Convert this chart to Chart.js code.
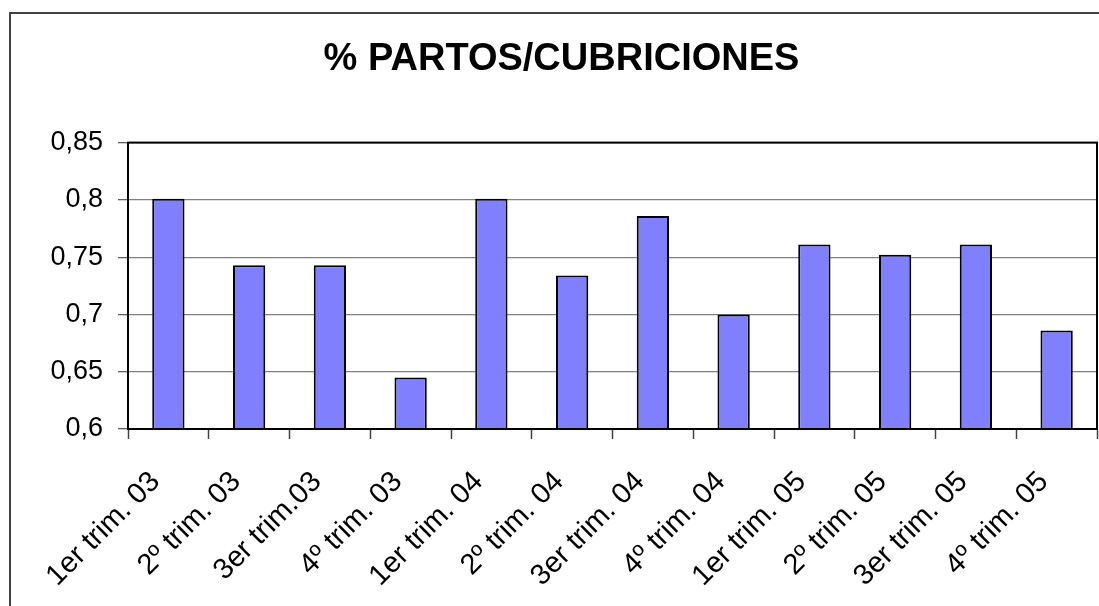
<!DOCTYPE html>
<html>
<head>
<meta charset="utf-8">
<script src="https://cdn.jsdelivr.net/npm/chart.js@4.4.1/dist/chart.umd.min.js"></script>
<style>
  html, body { margin: 0; padding: 0; background: #ffffff; }
  #wrap { width: 1099px; height: 606px; }
</style>
</head>
<body>
<div id="wrap"><canvas id="c" width="1099" height="606"></canvas></div>
<script>
const chartTitle = '% PARTOS/CUBRICIONES';
const categories = ['1er trim. 03', '2º trim. 03', '3er trim.03', '4º trim. 03',
                    '1er trim. 04', '2º trim. 04', '3er trim. 04', '4º trim. 04',
                    '1er trim. 05', '2º trim. 05', '3er trim. 05', '4º trim. 05'];
const values = [0.801, 0.743, 0.743, 0.645, 0.801, 0.734, 0.786, 0.700, 0.761, 0.752, 0.761, 0.686];
const yTickValues = [0.6, 0.65, 0.7, 0.75, 0.8, 0.85];
const yTickLabels = ['0,6', '0,65', '0,7', '0,75', '0,8', '0,85'];

const FONT = '"Liberation Sans", Arial, sans-serif';

const frame = {
  id: 'frame',
  beforeDraw(chart) {
    const ctx = chart.ctx;
    ctx.save();
    ctx.fillStyle = '#ffffff';
    ctx.fillRect(0, 0, chart.width, chart.height);
    ctx.strokeStyle = '#404040';
    ctx.lineWidth = 2;
    ctx.strokeRect(10, 13, 1300, 900);
    ctx.restore();
  },
  afterDraw(chart) {
    const a = chart.chartArea;
    const ctx = chart.ctx;
    ctx.save();
    ctx.strokeStyle = '#000000';
    ctx.lineWidth = 2;
    ctx.strokeRect(a.left, a.top, a.right - a.left, a.bottom - a.top);
    ctx.restore();
  }
};

new Chart(document.getElementById('c'), {
  type: 'bar',
  data: {
    labels: categories,
    datasets: [{
      data: values,
      backgroundColor: '#8080FF',
      borderColor: '#000000',
      borderWidth: 2,
      borderSkipped: false,
      barPercentage: 0.4,
      categoryPercentage: 1.0
    }]
  },
  options: {
    responsive: false,
    animation: false,
    layout: { padding: { left: 26, right: 2, top: 0, bottom: 0 } },
    plugins: {
      legend: { display: false },
      tooltip: { enabled: false },
      title: {
        display: true,
        text: chartTitle,
        color: '#000000',
        font: { family: FONT, size: 38, weight: 'bold', lineHeight: 1.2 },
        padding: { top: 37, bottom: 60 }
      }
    },
    scales: {
      x: {
        offset: true,
        grid: {
          offset: true,
          drawOnChartArea: false,
          drawTicks: true,
          tickLength: 10,
          tickColor: '#404040',
          tickWidth: 1.5
        },
        border: { display: true, color: '#000000', width: 2 },
        ticks: {
          autoSkip: false,
          maxRotation: 45,
          minRotation: 45,
          padding: 26,
          labelOffset: -13,
          color: '#000000',
          font: { family: FONT, size: 29 }
        },
        afterFit(scale) {
          scale.height = 177;
          scale.paddingLeft = 0;
          scale.paddingRight = 0;
        }
      },
      y: {
        min: 0.6,
        max: 0.85,
        afterBuildTicks(scale) {
          scale.ticks = yTickValues.map(v => ({ value: v }));
        },
        grid: {
          color: '#808080',
          lineWidth: 1.3,
          drawTicks: true,
          tickLength: 10,
          tickColor: '#606060'
        },
        border: { display: true, color: '#000000', width: 2 },
        ticks: {
          padding: 15,
          color: '#000000',
          font: { family: FONT, size: 27 },
          callback(value, index) { return yTickLabels[index]; }
        },
        afterFit(scale) { scale.width = 102; }
      }
    }
  },
  plugins: [frame]
});
</script>
</body>
</html>
